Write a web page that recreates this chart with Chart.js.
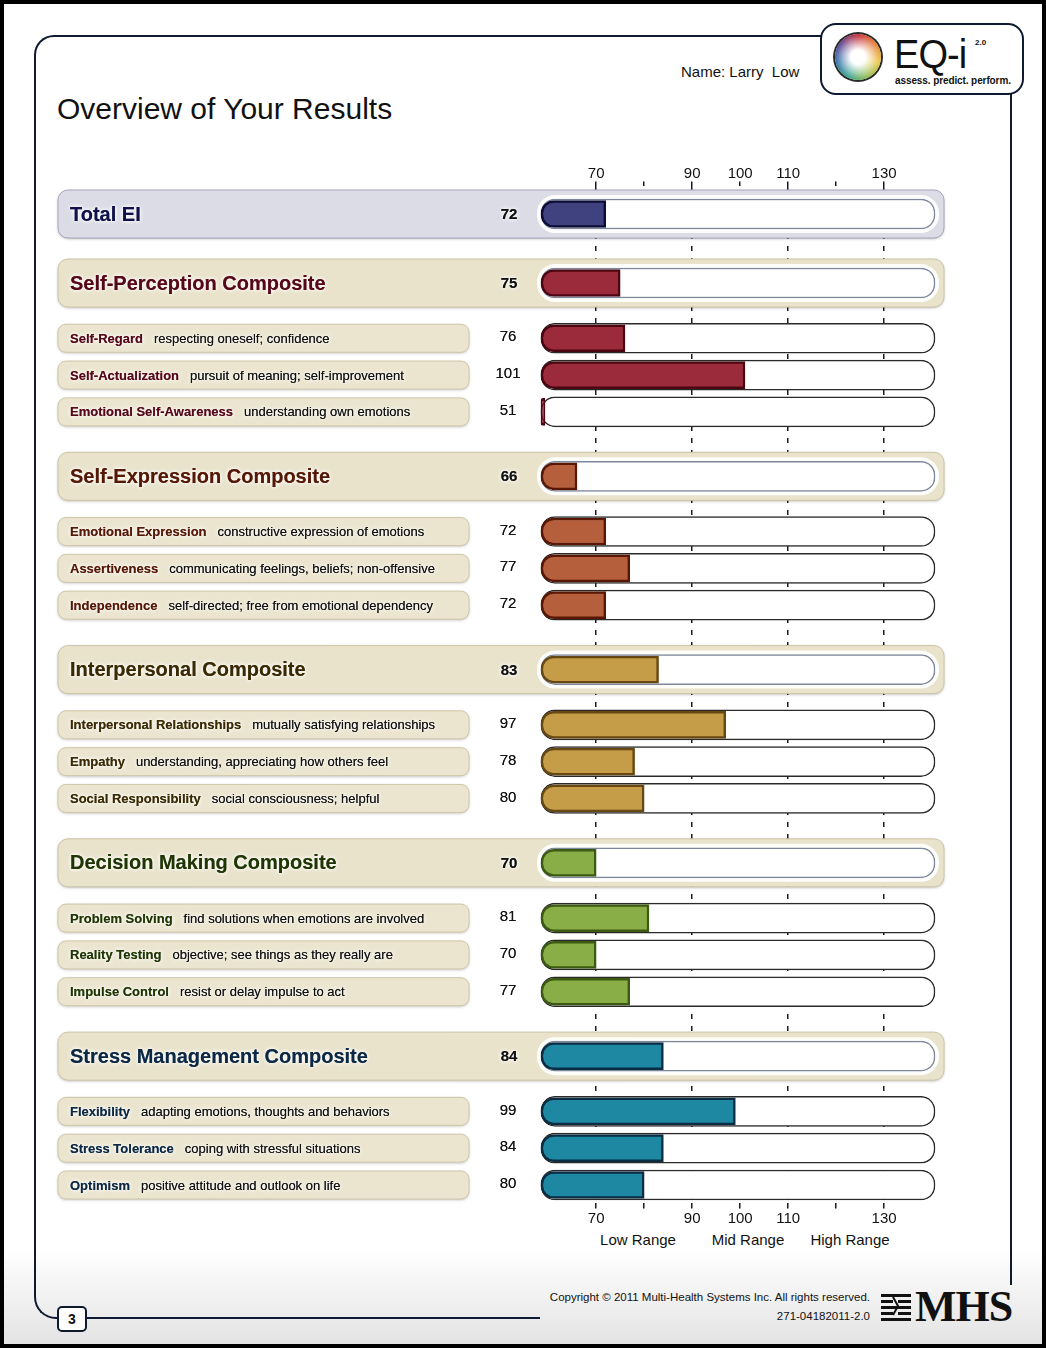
<!DOCTYPE html>
<html>
<head>
<meta charset="utf-8">
<title>Overview of Your Results</title>
<script src="https://cdn.jsdelivr.net/npm/chart.js@4.4.1/dist/chart.umd.min.js"></script>
<style>
  html, body { margin: 0; padding: 0; }
  body {
    width: 1046px; height: 1348px; position: relative; overflow: hidden;
    font-family: "Liberation Sans", Arial, Helvetica, sans-serif; color: #111;
    background: linear-gradient(to bottom, #fff 0, #fff 1250px, #e4e4e4 1342px);
  }
  .edge { position: absolute; left: 0; top: 0; width: 1046px; height: 1348px; box-sizing: border-box; border: 4px solid #000; z-index: 9; }
  .frame { position: absolute; left: 34px; top: 35px; width: 974px; height: 1248px; border: 2px solid #0e1a30; border-bottom: none; border-top-left-radius: 20px; }
  .frame-foot { position: absolute; left: 34px; top: 1270px; width: 504px; height: 47px; border-left: 2px solid #0e1a30; border-bottom: 2px solid #0e1a30; border-bottom-left-radius: 22px; }
  .page-no { position: absolute; left: 57px; top: 1306px; width: 26px; height: 22px; border: 2px solid #0e1a30; border-radius: 5px; background: #fff; font: bold 14px "Liberation Sans", Arial, sans-serif; text-align: center; line-height: 23px; }
  .title { position: absolute; left: 57px; top: 92px; font-size: 30px; line-height: 34px; color: #111; }
  .name { position: absolute; left: 681px; top: 64px; font-size: 15px; line-height: 16px; }
  .logo { position: absolute; left: 820px; top: 23px; width: 200px; height: 68px; border: 2px solid #0e1a30; border-radius: 16px; background: #fff; z-index: 3; }
  .flower { position: absolute; left: 13px; top: 9px; width: 46px; height: 46px; border-radius: 50%;
    background: radial-gradient(circle, #fff 0, #fff 22%, rgba(255,255,255,0.55) 45%, rgba(255,255,255,0) 72%),
                conic-gradient(#c0202c, #e2762a, #eac23a, #8cb846, #2f9e86, #2a6aa8, #5a3a8a, #c0202c);
    box-shadow: 0 0 0 2px #2a2a2a; }
  .eq { position: absolute; left: 72px; top: 9px; font-size: 40px; line-height: 40px; color: #111; letter-spacing: -1px; transform: scaleX(0.95); transform-origin: left top; }
  .ver { position: absolute; left: 153px; top: 13px; font-size: 8px; font-weight: bold; }
  .tag { position: absolute; left: 73px; top: 50px; font-size: 10px; line-height: 12px; font-weight: bold; letter-spacing: -0.1px; }
  .range { position: absolute; top: 1231px; font-size: 15px; line-height: 18px; transform: translateX(-50%); white-space: nowrap; }
  .copy { position: absolute; right: 176px; top: 1290px; font-size: 11.5px; line-height: 14px; text-align: right; }
  .copy2 { position: absolute; right: 176px; top: 1309px; font-size: 11.5px; line-height: 14px; text-align: right; }
  .mhs { position: absolute; left: 915px; top: 1283px; font: bold 44px/48px "Liberation Serif", "Times New Roman", serif; color: #111; letter-spacing: -1px; }
  .mhs-mark { position: absolute; left: 880px; top: 1292px; }
  canvas { position: absolute; left: 0; top: 0; z-index: 2; }
</style>
</head>
<body>
<div class="frame"></div>
<div class="frame-foot"></div>
<div class="page-no">3</div>
<div class="title">Overview of Your Results</div>
<div class="name">Name: Larry&nbsp; Low</div>
<div class="logo">
  <div class="flower"></div>
  <div class="eq">EQ-i</div>
  <div class="ver">2.0</div>
  <div class="tag">assess. predict. perform.</div>
</div>
<div id="ranges"></div>
<div class="copy">Copyright © 2011 Multi-Health Systems Inc. All rights reserved.</div>
<div class="copy2">271-04182011-2.0</div>
<svg class="mhs-mark" width="32" height="30" viewBox="0 0 32 30">
  <rect x="1" y="2" width="30" height="3" fill="#111"/>
  <rect x="1" y="8" width="12" height="3" fill="#111"/><rect x="18" y="8" width="13" height="3" fill="#111"/>
  <rect x="1" y="14" width="30" height="3" fill="#111"/>
  <rect x="1" y="20" width="12" height="3" fill="#111"/><rect x="18" y="20" width="13" height="3" fill="#111"/>
  <rect x="1" y="26" width="30" height="3" fill="#111"/>
  <path d="M13 5 L18 14 L13 23" stroke="#111" stroke-width="2" fill="none"/>
</svg>
<div class="mhs">MHS</div>
<canvas id="overview" width="1046" height="1348"></canvas>
<div class="edge"></div>

<script>
// scale rows, top to bottom
const rowNames = ['Total EI',
  'Self-Perception Composite', 'Self-Regard', 'Self-Actualization', 'Emotional Self-Awareness',
  'Self-Expression Composite', 'Emotional Expression', 'Assertiveness', 'Independence',
  'Interpersonal Composite', 'Interpersonal Relationships', 'Empathy', 'Social Responsibility',
  'Decision Making Composite', 'Problem Solving', 'Reality Testing', 'Impulse Control',
  'Stress Management Composite', 'Flexibility', 'Stress Tolerance', 'Optimism'];
const rowNotes = ['',
  '', 'respecting oneself; confidence', 'pursuit of meaning; self-improvement', 'understanding own emotions',
  '', 'constructive expression of emotions', 'communicating feelings, beliefs; non-offensive', 'self-directed; free from emotional dependency',
  '', 'mutually satisfying relationships', 'understanding, appreciating how others feel', 'social consciousness; helpful',
  '', 'find solutions when emotions are involved', 'objective; see things as they really are', 'resist or delay impulse to act',
  '', 'adapting emotions, thoughts and behaviors', 'coping with stressful situations', 'positive attitude and outlook on life'];
const rowScores = [72,
  75, 76, 101, 51,
  66, 72, 77, 72,
  83, 97, 78, 80,
  70, 81, 70, 77,
  84, 99, 84, 80];
const rowGroups = ['total',
  'perception', 'perception', 'perception', 'perception',
  'expression', 'expression', 'expression', 'expression',
  'interpersonal', 'interpersonal', 'interpersonal', 'interpersonal',
  'decision', 'decision', 'decision', 'decision',
  'stress', 'stress', 'stress', 'stress'];

const tickValues = [70, 80, 90, 100, 110, 120, 130];
const tickLabels = ['70', '', '90', '100', '110', '', '130'];
const gridValues = [70, 90, 110, 130];
const rangeLabels = ['Low Range', 'Mid Range', 'High Range'];

const AXIS_MIN = 58.5;
const AXIS_MAX = 140.6;

// colours per composite
const groupStyles = {
  total:         { bar: '#40417f', edge: '#0c0c36', text: '#10104a', panel: '#dcdce7', panelEdge: '#a6a6bd' },
  perception:    { bar: '#9b2a3b', edge: '#4c0612', text: '#560818', panel: '#e9e3cb', panelEdge: '#cdc5a6' },
  expression:    { bar: '#b55f3d', edge: '#5a1804', text: '#561806', panel: '#e9e3cb', panelEdge: '#cdc5a6' },
  interpersonal: { bar: '#c59c47', edge: '#684812', text: '#3a2a04', panel: '#e9e3cb', panelEdge: '#cdc5a6' },
  decision:      { bar: '#89ae48', edge: '#3d5a12', text: '#1f3604', panel: '#e9e3cb', panelEdge: '#cdc5a6' },
  stress:        { bar: '#1e88a2', edge: '#0a2d44', text: '#0c2844', panel: '#e9e3cb', panelEdge: '#cdc5a6' }
};

// vertical rhythm: rows sit on a fine category grid with empty slots between them
const LEAD = 6, TRAIL = 4;
function gapBefore(i) {
  if (i === 0) return LEAD;
  if (rowNotes[i] === '') return i === 1 ? 15 : 14;
  return rowNotes[i - 1] === '' ? 12 : 8;
}
const rowSlots = [];
rowNames.forEach((n, i) => rowSlots.push((i ? rowSlots[i - 1] : 0) + gapBefore(i)));
const slotCount = rowSlots[rowSlots.length - 1] + TRAIL + 1;
const rowAt = {};
rowSlots.forEach((s, i) => { rowAt[s] = i; });
const slotLabels = Array.from({ length: slotCount }, (_, s) => rowAt[s] !== undefined ? rowNames[rowAt[s]] : 'gap ' + s);

const isHeadRow = i => rowNotes[i] === '';
const styleAt = s => groupStyles[rowGroups[rowAt[s]]] || groupStyles.total;

document.getElementById('ranges').innerHTML = rangeLabels
  .map((t, i) => `<div class="range" style="left:${[638, 748, 850][i]}px">${t}</div>`).join('');

function roundRect(ctx, x, y, w, h, r) {
  ctx.beginPath();
  ctx.moveTo(x + r, y);
  ctx.arcTo(x + w, y, x + w, y + h, r);
  ctx.arcTo(x + w, y + h, x, y + h, r);
  ctx.arcTo(x, y + h, x, y, r);
  ctx.arcTo(x, y, x + w, y, r);
  ctx.closePath();
}

function glowText(ctx, text, x, y, font, color) {
  ctx.font = font;
  ctx.fillStyle = color;
  ctx.shadowColor = 'rgba(255,255,255,0.95)';
  ctx.shadowBlur = 4;
  ctx.fillText(text, x, y);
  ctx.fillText(text, x, y);
  ctx.shadowBlur = 0;
  ctx.shadowColor = 'transparent';
}

// panels behind the rows, and the row texts on top
const rowPanels = {
  id: 'rowPanels',
  beforeDatasetsDraw(chart) {
    const { ctx, scales: { y, x } } = chart;
    rowNames.forEach((name, i) => {
      const cy = y.getPixelForValue(rowSlots[i]);
      const g = groupStyles[rowGroups[i]];
      ctx.save();
      if (isHeadRow(i)) {
        roundRect(ctx, 58, cy - 24, 886, 48, 10);
        ctx.shadowColor = 'rgba(0,0,0,0.28)';
        ctx.shadowBlur = 3;
        ctx.shadowOffsetY = 1;
        ctx.fillStyle = g.panel;
        ctx.fill();
        ctx.shadowColor = 'transparent';
        ctx.lineWidth = 1;
        ctx.strokeStyle = g.panelEdge;
        ctx.stroke();
        roundRect(ctx, x.left - 4, cy - 19, x.right - x.left + 8, 38, 18);
        ctx.fillStyle = 'rgba(255,255,255,0.9)';
        ctx.fill();
      } else {
        roundRect(ctx, 58, cy - 14, 411, 28, 8);
        ctx.shadowColor = 'rgba(0,0,0,0.25)';
        ctx.shadowBlur = 3;
        ctx.shadowOffsetY = 1;
        ctx.fillStyle = '#ebe5cf';
        ctx.fill();
        ctx.shadowColor = 'transparent';
        ctx.lineWidth = 1;
        ctx.strokeStyle = '#cfc7a8';
        ctx.stroke();
      }
      ctx.restore();
    });
  },
  afterDatasetsDraw(chart) {
    const { ctx, scales: { y } } = chart;
    ctx.save();
    ctx.textBaseline = 'middle';
    rowNames.forEach((name, i) => {
      const cy = y.getPixelForValue(rowSlots[i]);
      const g = groupStyles[rowGroups[i]];
      ctx.textAlign = 'left';
      if (isHeadRow(i)) {
        glowText(ctx, name, 70, cy + 1, 'bold 20px "Liberation Sans", Arial, sans-serif', g.text);
        ctx.textAlign = 'center';
        glowText(ctx, String(rowScores[i]), 509, cy + 1, 'bold 15px "Liberation Sans", Arial, sans-serif', '#111');
      } else {
        const nameFont = 'bold 13px "Liberation Sans", Arial, sans-serif';
        glowText(ctx, name, 70, cy + 1, nameFont, g.text);
        ctx.font = nameFont;
        const w = ctx.measureText(name).width;
        glowText(ctx, rowNotes[i], 70 + w + 11, cy + 1, '13px "Liberation Sans", Arial, sans-serif', '#111');
        ctx.textAlign = 'center';
        glowText(ctx, String(rowScores[i]), 508, cy - 1, '15px "Liberation Sans", Arial, sans-serif', '#111');
      }
    });
    ctx.restore();
  }
};

const tickFont = { family: '"Liberation Sans", Arial, sans-serif', size: 15 };
function valueAxis(position, withGrid) {
  return {
    type: 'linear',
    position: position,
    min: AXIS_MIN,
    max: AXIS_MAX,
    afterBuildTicks: s => { s.ticks = tickValues.map(v => ({ value: v })); },
    afterFit: s => { s.height = 30; },
    ticks: {
      autoSkip: false, maxRotation: 0, padding: position === 'top' ? -1 : 1,
      color: '#111', font: tickFont,
      callback: (v, i) => tickLabels[i]
    },
    grid: {
      drawOnChartArea: withGrid,
      color: c => (c.tick && gridValues.includes(c.tick.value)) ? '#1a1a1a' : 'rgba(0,0,0,0)',
      lineWidth: 1.5,
      tickLength: 5,
      tickColor: '#1a1a1a',
      tickWidth: 1.5
    },
    border: { display: false, dash: [5, 7] }
  };
}

const chart = new Chart(document.getElementById('overview'), {
  type: 'bar',
  data: {
    labels: slotLabels,
    datasets: [
      {
        label: 'Score',
        data: slotLabels.map((_, s) => rowAt[s] === undefined ? null : [AXIS_MIN, Math.max(rowScores[rowAt[s]], AXIS_MIN)]),
        backgroundColor: c => styleAt(c.dataIndex).bar,
        borderColor: c => styleAt(c.dataIndex).edge,
        borderWidth: 2.5,
        borderSkipped: false,
        borderRadius: { topLeft: 13, bottomLeft: 13, topRight: 0, bottomRight: 0 },
        barThickness: 27,
        minBarLength: 4,
        grouped: false,
        clip: false
      },
      {
        label: 'Range',
        data: slotLabels.map((_, s) => rowAt[s] === undefined ? null : [AXIS_MIN, AXIS_MAX]),
        backgroundColor: '#ffffff',
        borderColor: c => isHeadRow(rowAt[c.dataIndex]) ? '#7d879c' : '#2a2a2a',
        borderWidth: 1.5,
        borderSkipped: false,
        borderRadius: 14,
        barThickness: 30,
        grouped: false,
        clip: false
      }
    ]
  },
  options: {
    indexAxis: 'y',
    responsive: false,
    animation: false,
    layout: { padding: { left: 541, right: 111, top: 156.4, bottom: 114.6 } },
    plugins: { legend: { display: false }, tooltip: { enabled: false } },
    scales: {
      y: { type: 'category', display: false, offset: false },
      x: valueAxis('bottom', false),
      x2: valueAxis('top', true)
    }
  },
  plugins: [rowPanels]
});
</script>
</body>
</html>
